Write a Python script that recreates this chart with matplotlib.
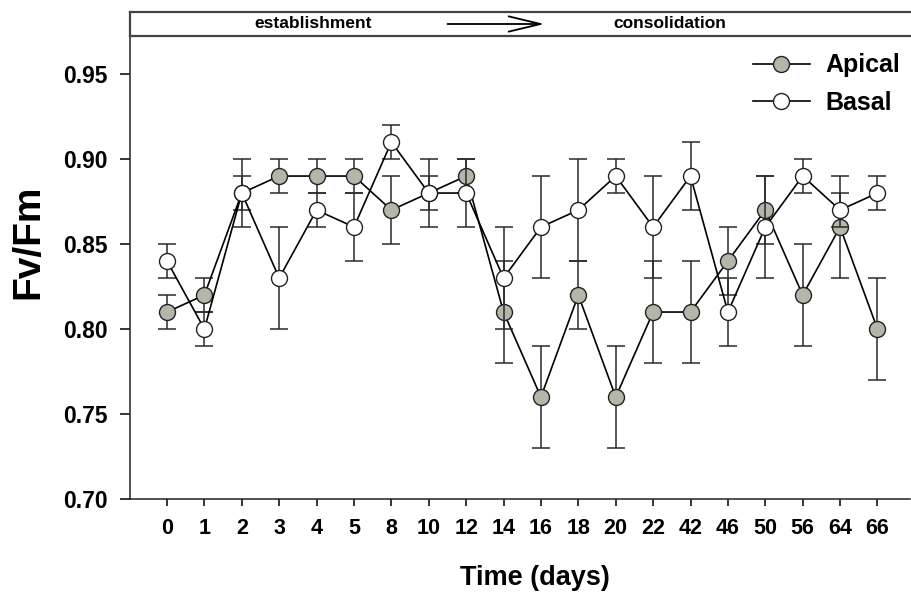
import matplotlib
matplotlib.use("Agg")
import matplotlib.pyplot as plt
import numpy as np
from matplotlib.patches import FancyArrowPatch

plt.rcParams['font.family'] = ['Liberation Sans', 'DejaVu Sans']
plt.rcParams['font.weight'] = 'bold'

days = ['0', '1', '2', '3', '4', '5', '8', '10', '12', '14',
        '16', '18', '20', '22', '42', '46', '50', '56', '64', '66']
apical = [0.81, 0.82, 0.88, 0.89, 0.89, 0.89, 0.87, 0.88, 0.89, 0.81,
          0.76, 0.82, 0.76, 0.81, 0.81, 0.84, 0.87, 0.82, 0.86, 0.80]
apical_err = [0.01, 0.01, 0.01, 0.01, 0.01, 0.01, 0.02, 0.01, 0.01, 0.03,
              0.03, 0.02, 0.03, 0.03, 0.03, 0.02, 0.02, 0.03, 0.03, 0.03]
basal = [0.84, 0.80, 0.88, 0.83, 0.87, 0.86, 0.91, 0.88, 0.88, 0.83,
         0.86, 0.87, 0.89, 0.86, 0.89, 0.81, 0.86, 0.89, 0.87, 0.88]
basal_err = [0.01, 0.01, 0.02, 0.03, 0.01, 0.02, 0.01, 0.02, 0.02, 0.03,
             0.03, 0.03, 0.01, 0.03, 0.02, 0.02, 0.03, 0.01, 0.01, 0.01]
y_ticks = [0.70, 0.75, 0.80, 0.85, 0.90, 0.95]
phase_labels = ['establishment', 'consolidation']

W, H = 912, 592
fig = plt.figure(figsize=(W / 100, H / 100), dpi=100)

def rect(l, t, r, b):
    return [l / W, 1 - b / H, (r - l) / W, (b - t) / H]

ax = fig.add_axes(rect(130, 36, 910, 499))
x = np.arange(len(days))
gray = '#b5b5aa'
ms = 11.5

ax.errorbar(x, apical, yerr=apical_err, fmt='none', ecolor='#2a2a2a',
            elinewidth=1.1, capsize=6.5, capthick=1.1, zorder=2)
ax.plot(x, apical, '-o', color='black', lw=1.2, markersize=ms,
        markerfacecolor=gray, markeredgecolor='#222222', markeredgewidth=1.0,
        zorder=3, label='Apical')
ax.errorbar(x, basal, yerr=basal_err, fmt='none', ecolor='#2a2a2a',
            elinewidth=1.1, capsize=6.5, capthick=1.1, zorder=4)
ax.plot(x, basal, '-o', color='black', lw=1.2, markersize=ms,
        markerfacecolor='white', markeredgecolor='#222222', markeredgewidth=1.0,
        zorder=5, label='Basal')

ax.set_xlim(-0.99, len(days) - 1 + 0.87)
ax.set_ylim(0.70, 0.9724)
ax.set_xticks(x)
ax.set_xticklabels(days, fontsize=15.5, fontweight='bold')
ax.set_yticks(y_ticks)
ax.set_yticklabels([f'{v:.2f}' for v in y_ticks], fontsize=16.5, fontweight='bold')
ax.tick_params(axis='y', direction='out', length=7, width=1.1, pad=9)
ax.tick_params(axis='x', direction='out', length=5, width=1.1, pad=9)
for s in ['top', 'right']:
    ax.spines[s].set_visible(False)
for s in ['left', 'bottom']:
    ax.spines[s].set_linewidth(1.1)
    ax.spines[s].set_color('#222222')

ax.set_ylabel('Fv/Fm', fontsize=28, fontweight='bold')
ax.yaxis.set_label_coords(-0.107, 0.555)
ax.set_xlabel('Time (days)', fontsize=19.5, fontweight='bold')
ax.xaxis.set_label_coords(0.519, -0.143)

leg = ax.legend(loc='upper right', bbox_to_anchor=(1.0064, 0.995), frameon=False,
                fontsize=18, handlelength=2.3, handletextpad=0.6,
                labelspacing=0.55, borderaxespad=0.2)
for t in leg.get_texts():
    t.set_fontweight('bold')

band = fig.add_axes(rect(130, 12, 912, 36))
band.set_xlim(0, 1)
band.set_ylim(0, 1)
band.set_xticks([])
band.set_yticks([])
band.spines['right'].set_visible(False)
for s in ['top', 'bottom', 'left']:
    band.spines[s].set_linewidth(1.6)
    band.spines[s].set_color('#444444')
band.text(0.234, 0.5, phase_labels[0], ha='center', va='center',
          fontsize=12.5, fontweight='bold')
band.text(0.69, 0.5, phase_labels[1], ha='center', va='center',
          fontsize=12.5, fontweight='bold')
arr = FancyArrowPatch((0.406, 0.5), (0.53, 0.5), transform=band.transAxes,
                      arrowstyle='->,head_length=23,head_width=5.5',
                      mutation_scale=1, lw=1.3, color='black',
                      shrinkA=0, shrinkB=0)
band.add_patch(arr)

fig.savefig('out.png', dpi=100)
